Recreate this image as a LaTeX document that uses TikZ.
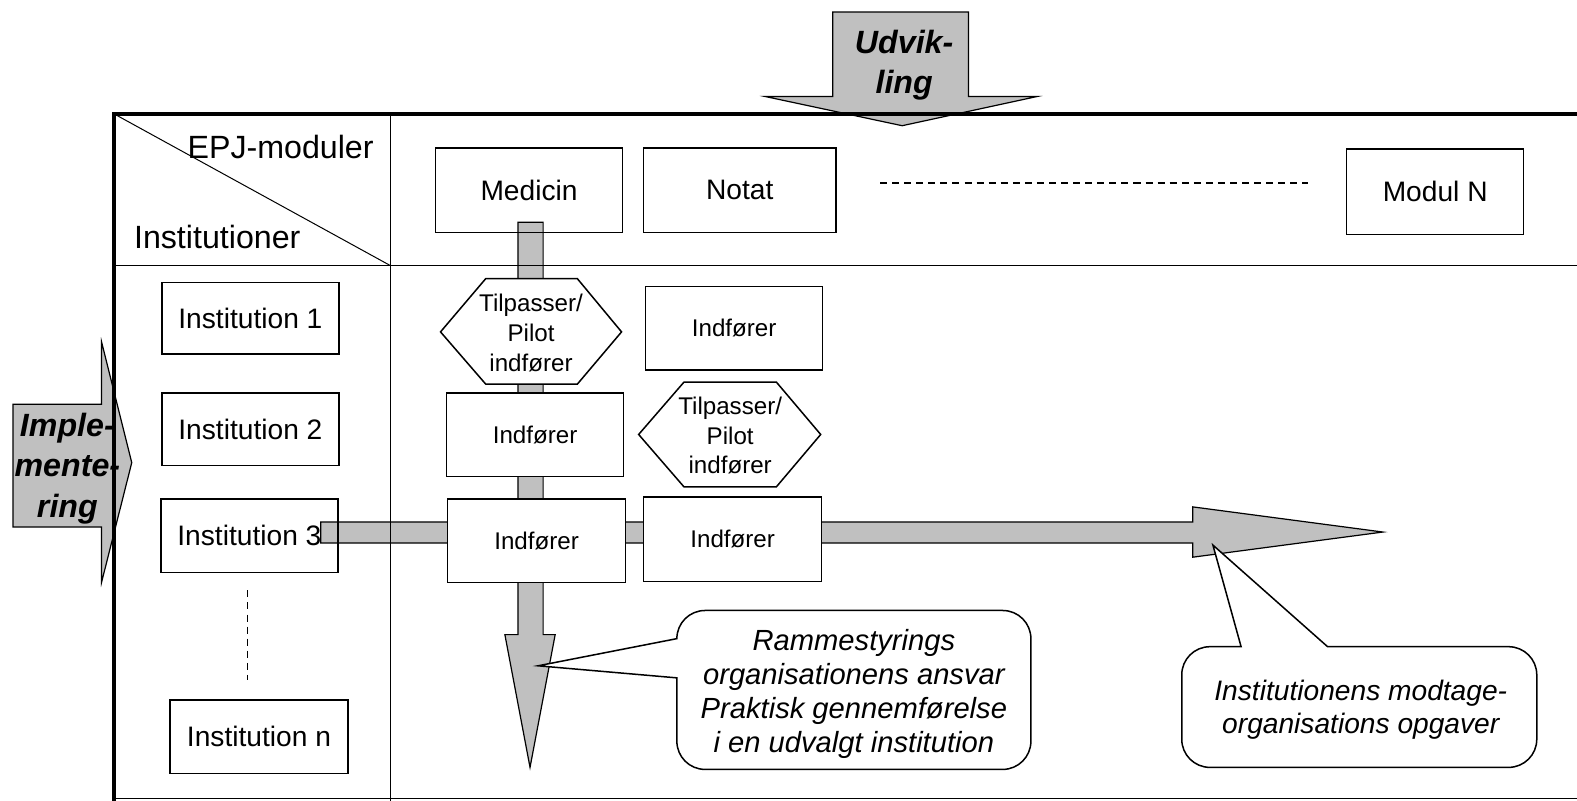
\documentclass[tikz,border=0pt]{standalone}
\usepackage{fontspec}
\setmainfont{Liberation Sans}
\definecolor{arrowgray}{RGB}{192,192,192}
\begin{document}
\begin{tikzpicture}[x=0.5pt,y=-0.5pt,
  thinline/.style={line width=0.5pt},
  thickline/.style={line width=2pt, line join=miter},
  bigarrow/.style={fill=arrowgray, draw=black, line width=0.6pt, line join=miter},
  box/.style={draw, line width=0.75pt, inner sep=0pt, font=\fontsize{14}{17}\selectfont},
  ibox/.style={draw, fill=white, line width=0.75pt, inner sep=0pt, font=\fontsize{12}{15}\selectfont, minimum width=88pt, minimum height=41.5pt},
  hexshape/.style={draw, fill=white, line width=0.75pt},
  hextext/.style={align=center, inner sep=0pt, font=\fontsize{12}{14.75}\selectfont},
  calloutshape/.style={draw, fill=white, line width=0.75pt},
  callouttext/.style={align=center, inner sep=0pt, font=\fontsize{14.5}{17}\selectfont\itshape},
  arrowtext/.style={align=center, inner sep=0pt, font=\fontsize{16}{20}\selectfont\bfseries\itshape},
  headtext/.style={inner sep=0pt, font=\fontsize{16}{19}\selectfont},
  dashline/.style={dash pattern=on 3.5pt off 2.5pt, line width=0.6pt}
]
\useasboundingbox (0,0) rectangle (1568,796);

% big arrows
\draw[bigarrow] (828,12) -- (963,12) -- (963,96) -- (1031,96) -- (897,125) -- (761,96) -- (828,96) -- cycle;
\draw[bigarrow] (13,402) -- (101,402) -- (101,340) -- (131,460) -- (101,579) -- (101,524) -- (13,524) -- cycle;
\draw[bigarrow] (319,519) -- (1186,519) -- (1186,504) -- (1375,529) -- (1186,554) -- (1186,540) -- (319,540) -- cycle;
\draw[bigarrow] (515,221) -- (540,221) -- (540,631) -- (552,631) -- (527,763) -- (502,631) -- (515,631) -- cycle;

\node[arrowtext] (udv) at (899,65) {Udvik-\\ling};
\node[arrowtext] (impl) at (67,466) {Imple-\\mente-\\ring};

% frame
\draw[thinline] (388,113) -- (388,796);
\draw[thinline] (113,264) -- (1568,264);
\draw[thinline] (113,794) -- (1568,794);
\draw[thinline] (113,113) -- (388,264);
\draw[thickline] (113,796) -- (113,113) -- (1568,113);

\node[headtext] (epj) at (279,146) {EPJ-moduler};
\node[headtext] (inst) at (216,236) {Institutioner};

% module boxes
\node[box, minimum width=93pt, minimum height=42pt] (medicin) at (526,189) {Medicin};
\node[box, minimum width=95.5pt, minimum height=42pt] (notat) at (735.5,189) {Notat};
\node[box, minimum width=88pt, minimum height=42.5pt] (moduln) at (1427,190.5) {Modul N};
\coordinate (dl1) at (875,182);
\coordinate (dl2) at (1301,182);
\draw[dashline] (dl1) -- (dl2);

% institution boxes
\node[box, minimum width=88pt, minimum height=35.5pt] (inst1) at (249,316.5) {Institution 1};
\node[box, minimum width=88pt, minimum height=36pt] (inst2) at (249,427) {Institution 2};
\node[box, minimum width=88pt, minimum height=36.5pt] (inst3) at (248,532.5) {Institution 3};
\node[box, minimum width=88.5pt, minimum height=36.5pt] (instn) at (257.5,732.5) {Institution n};
\coordinate (dv1) at (246,587);
\coordinate (dv2) at (246,676);
\draw[dashline] (dv1) -- (dv2);

% hexagons
\draw[hexshape] (438,330) -- (483,277) -- (574,277) -- (618,330) -- (574,382) -- (483,382) -- cycle;
\node[hextext] (hex1) at (528,331) {Tilpasser/\\Pilot\\indfører};
\draw[hexshape] (635,432) -- (680,380) -- (772,380) -- (816,432) -- (772,484) -- (680,484) -- cycle;
\node[hextext] (hex2) at (726,433) {Tilpasser/\\Pilot\\indfører};

% Indfører boxes
\node[ibox] (i1c2) at (730,326.5) {Indfører};
\node[ibox] (i2c1) at (532,432.5) {Indfører};
\node[ibox, minimum width=88.5pt] (i3c1) at (533.5,537.5) {Indfører};
\node[ibox, minimum width=88.5pt, minimum height=42pt] (i3c2) at (728.5,536) {Indfører};

% callouts
\draw[calloutshape] (673,674) -- (535,662) -- (673,635) [rounded corners=14pt] -- (673,607) -- (1025,607) -- (1025,765) -- (673,765) [sharp corners] -- cycle;
\node[callouttext] (c1) at (849,690) {Rammestyrings\\organisationens ansvar\\Praktisk gennemførelse\\i en udvalgt institution};
\draw[calloutshape] (1234,643) -- (1206,542) -- (1320,643) [rounded corners=14pt] -- (1528,643) -- (1528,763) -- (1175,763) -- (1175,643) [sharp corners] -- cycle;
\node[callouttext, font=\fontsize{14}{16.5}\selectfont\itshape] (c2) at (1353,706) {Institutionens modtage-\\organisations opgaver};
\end{tikzpicture}
\end{document}
